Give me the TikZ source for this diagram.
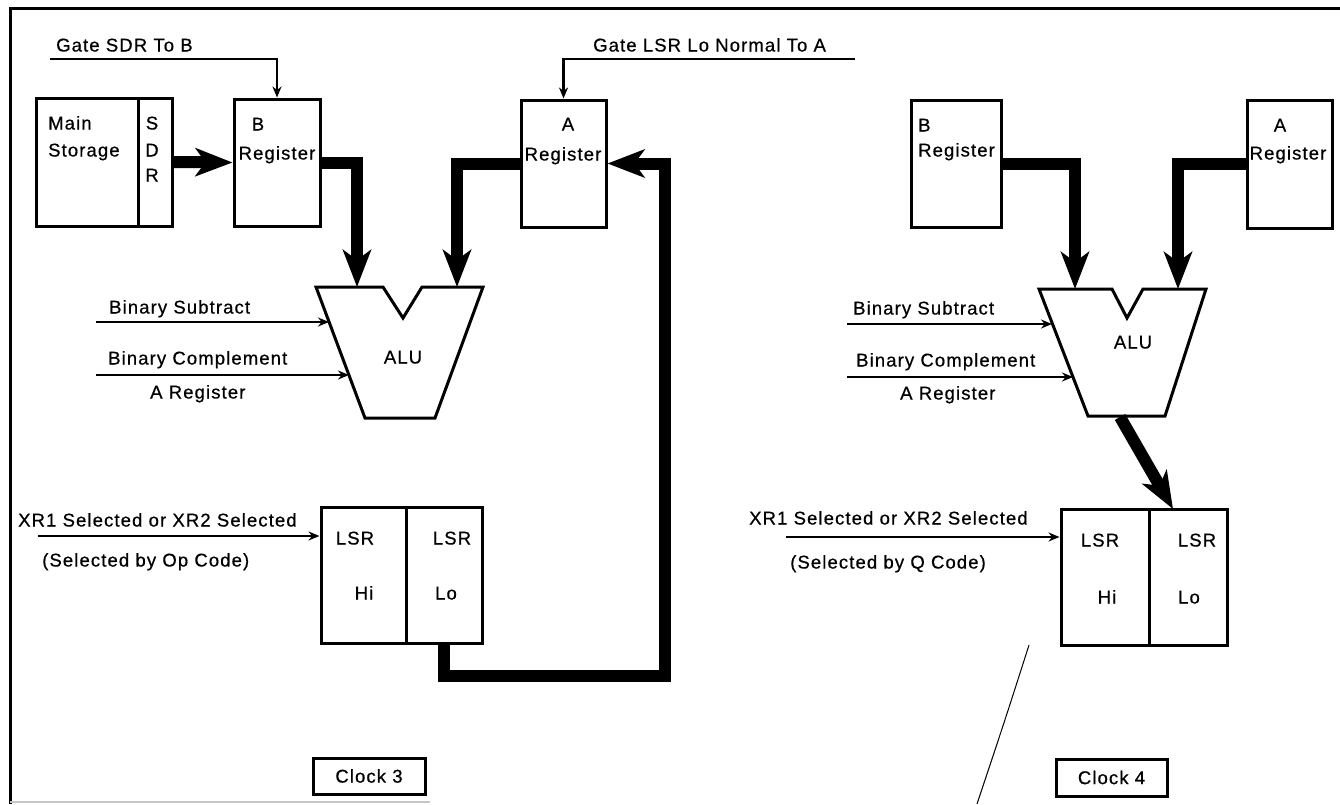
\documentclass[tikz,border=0pt]{standalone}
\usepackage{fontspec}
\setmainfont{Liberation Sans}[LetterSpace=6, FakeBold=0.6]
\usetikzlibrary{arrows.meta}
\newcommand{\lblfont}{\fontsize{18.5}{22}\selectfont}
\begin{document}
\begin{tikzpicture}[x=1pt,y=-1pt,
  box/.style={draw, line width=3pt, inner sep=0pt, font=\lblfont},
  txt/.style={inner sep=0pt, font=\lblfont, text height=13pt, text depth=0pt},
  thinarrow/.style={line width=2.8pt, -{Stealth[length=11pt,width=9pt]}},
  thickarrow/.style={line width=12pt, -{Stealth[length=37pt,width=28pt,inset=10pt]}},
  alushape/.style={draw, line width=3pt, line join=miter},
  frameline/.style={line width=3pt}
]
\useasboundingbox (0,0) rectangle (1340,804);
\fill[white] (0,0) rectangle (1340,804);

% frame
\draw[frameline] (10,804) -- (10,8) -- (1340,8);
\draw[gray!45, line width=2pt] (10,802) -- (430,802);

% ================= Clock 3 (left) =================
\node[box, minimum width=102pt, minimum height=128pt] (ms) at (87,162) {};
\node[box, minimum width=34pt, minimum height=128pt] (sdr) at (155,162) {};
\node[box, minimum width=86pt, minimum height=127pt] (breg) at (277,162.5) {};
\node[box, minimum width=85pt, minimum height=127pt] (areg) at (563.5,163.5) {};
\node[box, minimum width=85pt, minimum height=136pt] (lsrhi) at (363.5,575) {};
\node[box, minimum width=76pt, minimum height=136pt] (lsrlo) at (444,575) {};
\node[box, minimum width=112pt, minimum height=36pt] (clk3) at (369,776) {Clock 3};

\node[txt, anchor=west] (tms1) at (48,123) {Main};
\node[txt, anchor=west] (tms2) at (48,150) {Storage};
\node[txt] (ts) at (152,123) {S};
\node[txt] (td) at (152,150) {D};
\node[txt] (tr) at (152,175) {R};
\node[txt] (tb1) at (258,124) {B};
\node[txt] (tb2) at (277,153) {Register};
\node[txt] (ta1) at (568,124) {A};
\node[txt] (ta2) at (563,154) {Register};
\node[txt] (tl1) at (355,538) {LSR};
\node[txt] (tl2) at (364,593) {Hi};
\node[txt] (tl3) at (452,538) {LSR};
\node[txt] (tl4) at (446,593) {Lo};

\node[txt, anchor=west] (tgate1) at (56,45) {Gate SDR To B};
\node[txt, anchor=west] (tgate2) at (593,45) {Gate LSR Lo Normal To A};
\node[txt, anchor=west] (tbs) at (109,307) {Binary Subtract};
\node[txt, anchor=west] (tbc) at (108,358) {Binary Complement};
\node[txt, anchor=west] (tar) at (150,392) {A Register};
\node[txt, anchor=west] (txr) at (18,520) {XR1 Selected or XR2 Selected};
\node[txt, anchor=west] (top) at (42,560) {(Selected by Op Code)};

% ALU left
\draw[alushape] (316,287) -- (383,287) -- (403,318) -- (422,287) -- (483,287) -- (435,418) -- (365,418) -- cycle;
\node[txt] (alu1) at (403,357) {ALU};
\coordinate (alub) at (357,287);
\coordinate (alua) at (457,287);
\coordinate (alus) at (329,322);
\coordinate (aluc) at (349,375);

% connectors left
\coordinate (g1) at (50,59);
\coordinate (g2) at (855,59);
\draw[thinarrow] (g1) -| (breg.north);
\draw[thinarrow] (g2) -| (areg.north);
\draw[thickarrow] (sdr.east) -- (breg.west);
\draw[thickarrow] (breg.east) -| (alub);
\draw[thickarrow] (areg.west) -| (alua);
\coordinate (loopc) at (665,676);
\draw[thickarrow] (lsrlo.south) |- (loopc) |- (areg.east);
\coordinate (bs1) at (96,322);
\coordinate (bc1) at (96,375);
\draw[thinarrow] (bs1) -- (alus);
\draw[thinarrow] (bc1) -- (aluc);
\coordinate (xr1) at (38,536);
\draw[thinarrow] (xr1) -- (xr1 -| lsrhi.west);

% ================= Clock 4 (right) =================
\node[box, minimum width=90pt, minimum height=127pt] (breg2) at (956,163.5) {};
\node[box, minimum width=85pt, minimum height=128pt] (areg2) at (1289.5,164) {};
\node[box, minimum width=88pt, minimum height=136pt] (lsrhi2) at (1105,577) {};
\node[box, minimum width=78pt, minimum height=136pt] (lsrlo2) at (1188,577) {};
\node[box, minimum width=111pt, minimum height=37pt] (clk4) at (1111.5,777.5) {Clock 4};

\node[txt, anchor=west] (tb3) at (918,125) {B};
\node[txt, anchor=west] (tb4) at (918,150) {Register};
\node[txt] (ta3) at (1280,125) {A};
\node[txt] (ta4) at (1288,153) {Register};
\node[txt] (tl5) at (1100,540) {LSR};
\node[txt] (tl6) at (1107,597) {Hi};
\node[txt] (tl7) at (1197,540) {LSR};
\node[txt] (tl8) at (1189,597) {Lo};

\node[txt, anchor=west] (tbs2) at (853,308) {Binary Subtract};
\node[txt, anchor=west] (tbc2) at (856,360) {Binary Complement};
\node[txt, anchor=west] (tar2) at (900,393) {A Register};
\node[txt, anchor=west] (txr2) at (749,518) {XR1 Selected or XR2 Selected};
\node[txt, anchor=west] (tq) at (790,562) {(Selected by Q Code)};

% ALU right
\draw[alushape] (1039,289) -- (1112,289) -- (1127,318) -- (1143,289) -- (1206,289) -- (1165,416) -- (1088,416) -- cycle;
\node[txt] (alu2) at (1133,342) {ALU};
\coordinate (alub2) at (1075,289);
\coordinate (alua2) at (1178,289);
\coordinate (alus2) at (1052,324);
\coordinate (aluc2) at (1073,377);
\coordinate (aluo2) at (1120,417);
\coordinate (lsrin2) at (1173,509);

% connectors right
\draw[thickarrow] (breg2.east) -| (alub2);
\draw[thickarrow] (areg2.west) -| (alua2);
\draw[thickarrow] (aluo2) -- (lsrin2);
\coordinate (bs2) at (847,324);
\coordinate (bc2) at (847,377);
\draw[thinarrow] (bs2) -- (alus2);
\draw[thinarrow] (bc2) -- (aluc2);
\coordinate (xr2) at (786,537);
\draw[thinarrow] (xr2) -- (xr2 -| lsrhi2.west);

% thin scratch line
\draw[line width=1pt] (1029,645) .. controls (1005,720) .. (977,804);
\end{tikzpicture}
\end{document}
